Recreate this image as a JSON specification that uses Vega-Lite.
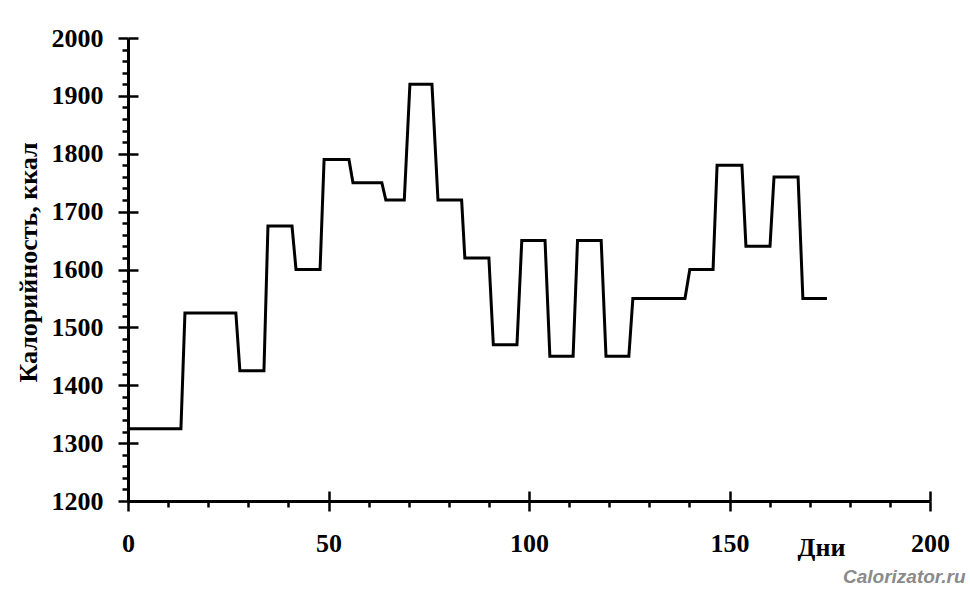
{
  "$schema": "https://vega.github.io/schema/vega-lite/v6.json",
  "width": 802,
  "height": 463,
  "autosize": "none",
  "padding": {"left": 128, "top": 38, "right": 40, "bottom": 103},
  "background": "white",
  "title": {
    "text": "Calorizator.ru",
    "orient": "bottom",
    "anchor": "end",
    "font": "Liberation Sans",
    "fontSize": 19,
    "fontWeight": "bold",
    "fontStyle": "italic",
    "color": "#8a8a8a",
    "offset": 8,
    "dx": 16
  },
  "data": {
    "values": [
      {"day": 0, "kcal": 1325},
      {"day": 13.2, "kcal": 1325},
      {"day": 14.2, "kcal": 1525},
      {"day": 26.9, "kcal": 1525},
      {"day": 27.9, "kcal": 1425},
      {"day": 33.9, "kcal": 1425},
      {"day": 34.9, "kcal": 1675},
      {"day": 40.9, "kcal": 1675},
      {"day": 41.9, "kcal": 1600},
      {"day": 47.9, "kcal": 1600},
      {"day": 48.9, "kcal": 1790},
      {"day": 55.1, "kcal": 1790},
      {"day": 56.1, "kcal": 1750},
      {"day": 63.3, "kcal": 1750},
      {"day": 64.3, "kcal": 1720},
      {"day": 68.9, "kcal": 1720},
      {"day": 70.3, "kcal": 1920},
      {"day": 75.8, "kcal": 1920},
      {"day": 77.3, "kcal": 1720},
      {"day": 83.2, "kcal": 1720},
      {"day": 84.0, "kcal": 1620},
      {"day": 90.0, "kcal": 1620},
      {"day": 91.1, "kcal": 1470},
      {"day": 97.0, "kcal": 1470},
      {"day": 98.2, "kcal": 1650},
      {"day": 104.0, "kcal": 1650},
      {"day": 105.2, "kcal": 1450},
      {"day": 111.0, "kcal": 1450},
      {"day": 112.1, "kcal": 1650},
      {"day": 118.0, "kcal": 1650},
      {"day": 119.2, "kcal": 1450},
      {"day": 124.9, "kcal": 1450},
      {"day": 125.9, "kcal": 1550},
      {"day": 138.9, "kcal": 1550},
      {"day": 140.1, "kcal": 1600},
      {"day": 145.9, "kcal": 1600},
      {"day": 146.9, "kcal": 1780},
      {"day": 153.1, "kcal": 1780},
      {"day": 154.1, "kcal": 1640},
      {"day": 160.1, "kcal": 1640},
      {"day": 161.1, "kcal": 1760},
      {"day": 167.1, "kcal": 1760},
      {"day": 168.3, "kcal": 1550},
      {"day": 174.3, "kcal": 1550}
    ]
  },
  "layer": [
    {
      "mark": {"type": "line", "strokeOpacity": 0},
      "encoding": {
        "x": {
          "field": "day", "type": "quantitative",
          "scale": {"domain": [0, 200], "nice": false, "zero": false},
          "axis": {
            "orient": "bottom",
            "values": [10, 20, 30, 40, 60, 70, 80, 90, 110, 120, 130, 140, 160, 170, 180, 190],
            "tickSize": 6, "tickWidth": 2.5, "tickColor": "black",
            "domain": false, "labels": false, "grid": false, "title": null
          }
        },
        "y": {
          "field": "kcal", "type": "quantitative",
          "scale": {"domain": [1200, 2000], "nice": false, "zero": false},
          "axis": {
            "orient": "left",
            "values": [1220, 1240, 1260, 1280, 1320, 1340, 1360, 1380, 1420, 1440, 1460, 1480, 1520, 1540, 1560, 1580, 1620, 1640, 1660, 1680, 1720, 1740, 1760, 1780, 1820, 1840, 1860, 1880, 1920, 1940, 1960, 1980],
            "tickSize": 6, "tickWidth": 2.5, "tickColor": "black",
            "domain": false, "labels": false, "grid": false, "title": null
          }
        }
      }
    },
    {
      "mark": {"type": "line", "strokeOpacity": 0},
      "encoding": {
        "x": {
          "field": "day", "type": "quantitative",
          "scale": {"domain": [0, 200], "nice": false, "zero": false},
          "axis": {
            "orient": "bottom",
            "values": [0, 50, 100, 150, 200],
            "tickSize": -10, "tickWidth": 2.5, "tickColor": "black",
            "domain": false, "labels": false, "grid": false, "title": null
          }
        },
        "y": {
          "field": "kcal", "type": "quantitative",
          "scale": {"domain": [1200, 2000], "nice": false, "zero": false},
          "axis": {
            "orient": "left",
            "values": [1200, 1300, 1400, 1500, 1600, 1700, 1800, 1900, 2000],
            "tickSize": -10, "tickWidth": 2.5, "tickColor": "black",
            "domain": false, "labels": false, "grid": false, "title": null
          }
        }
      }
    },
    {
      "mark": {"type": "line", "color": "black", "strokeWidth": 3, "strokeJoin": "miter", "clip": false},
      "encoding": {
        "x": {
          "field": "day", "type": "quantitative",
          "scale": {"domain": [0, 200], "nice": false, "zero": false},
          "axis": {
            "orient": "bottom",
            "values": [0, 50, 100, 150, 200],
            "format": "d",
            "tickSize": 10, "tickWidth": 2.5, "tickColor": "black",
            "domain": true, "domainColor": "black", "domainWidth": 3,
            "grid": false,
            "labelFont": "Liberation Serif", "labelFontSize": 26, "labelFontWeight": "bold",
            "labelColor": "black", "labelPadding": 19, "labelFlush": false, "labelOverlap": false,
            "title": "Дни",
            "titleFont": "Liberation Serif", "titleFontSize": 26, "titleFontWeight": "bold",
            "titleColor": "black",
            "titleX": 693, "titleY": 54, "titleAlign": "center", "titleBaseline": "alphabetic", "titleAngle": 0
          }
        },
        "y": {
          "field": "kcal", "type": "quantitative",
          "scale": {"domain": [1200, 2000], "nice": false, "zero": false},
          "axis": {
            "orient": "left",
            "values": [1200, 1300, 1400, 1500, 1600, 1700, 1800, 1900, 2000],
            "format": "d",
            "tickSize": 10, "tickWidth": 2.5, "tickColor": "black",
            "domain": true, "domainColor": "black", "domainWidth": 3,
            "grid": false,
            "labelFont": "Liberation Serif", "labelFontSize": 26, "labelFontWeight": "bold",
            "labelColor": "black", "labelPadding": 15, "labelFlush": false, "labelOverlap": false,
            "title": "Калорийность, ккал",
            "titleFont": "Liberation Serif", "titleFontSize": 26, "titleFontWeight": "bold",
            "titleColor": "black",
            "titleX": -92, "titleY": 224, "titleAlign": "center", "titleBaseline": "alphabetic", "titleAngle": -90
          }
        }
      }
    }
  ],
  "resolve": {"axis": {"x": "independent", "y": "independent"}},
  "config": {"view": {"stroke": null}}
}
